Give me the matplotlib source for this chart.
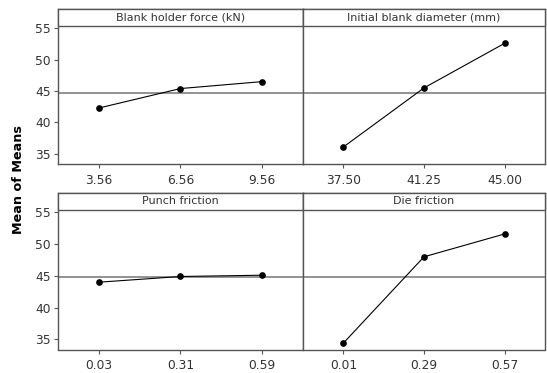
import matplotlib
matplotlib.use("Agg")
import matplotlib.pyplot as plt
from matplotlib.patches import Rectangle

# factor names and levels
titles = ["Blank holder force (kN)", "Initial blank diameter (mm)",
          "Punch friction", "Die friction"]
levels = [["3.56", "6.56", "9.56"],
          ["37.50", "41.25", "45.00"],
          ["0.03", "0.31", "0.59"],
          ["0.01", "0.29", "0.57"]]

# mean of means per level
bhf_means = [42.3, 45.4, 46.5]
diam_means = [36.1, 45.5, 52.6]
punch_means = [44.0, 44.9, 45.1]
die_means = [34.4, 48.0, 51.6]
grand_mean = 44.75

all_means = [bhf_means, diam_means, punch_means, die_means]

W, H = 547, 373
fig = plt.figure(figsize=(W / 100, H / 100), dpi=100)

edge = "#555555"
txt = "#333333"
fs_tick = 8.8
fs_title = 8.0

# panel boxes in pixels: (left, top, right, bottom)
boxes = [(58, 9, 303, 164), (303, 9, 545, 164),
         (58, 193, 303, 349.5), (303, 193, 545, 349.5)]

strip_px = 17

for i, (l, t, r, b) in enumerate(boxes):
    ax = fig.add_axes([l / W, 1 - b / H, (r - l) / W, (b - t) / H])
    x = range(len(levels[i]))
    ax.axhline(grand_mean, color="#808080", lw=1.2, zorder=1)
    ax.plot(x, all_means[i], color="black", lw=0.8, marker="o",
            markersize=3.8, zorder=3)
    ax.set_xlim(-0.5, 2.5)
    ax.set_ylim(33.4, 58.05)
    ax.set_xticks(list(x))
    ax.set_xticklabels(levels[i])
    ax.set_yticks([35, 40, 45, 50, 55])
    ax.tick_params(colors=edge, labelcolor=txt, labelsize=fs_tick,
                   length=3, width=0.8, pad=2)
    if i % 2 == 1:
        ax.tick_params(axis="y", left=False, labelleft=False)
    ax.tick_params(axis="x", pad=4)
    for sp in ax.spines.values():
        sp.set_color(edge)
        sp.set_linewidth(1.0)

    # strip with the factor name
    sh = strip_px / (b - t)
    ax.add_patch(Rectangle((0, 1 - sh), 1, sh, transform=ax.transAxes,
                           facecolor="white", edgecolor=edge, lw=1.0,
                           zorder=4, clip_on=False))
    ax.text(0.5, 1 - sh / 2, titles[i], transform=ax.transAxes,
            ha="center", va="center", fontsize=fs_title, color=txt, zorder=5)

fig.text(19 / W, 1 - 180 / H, "Mean of Means", rotation=90,
         ha="center", va="center", fontsize=9.2, fontweight="bold",
         color="black")

fig.savefig("out.png", dpi=100, facecolor="white")
